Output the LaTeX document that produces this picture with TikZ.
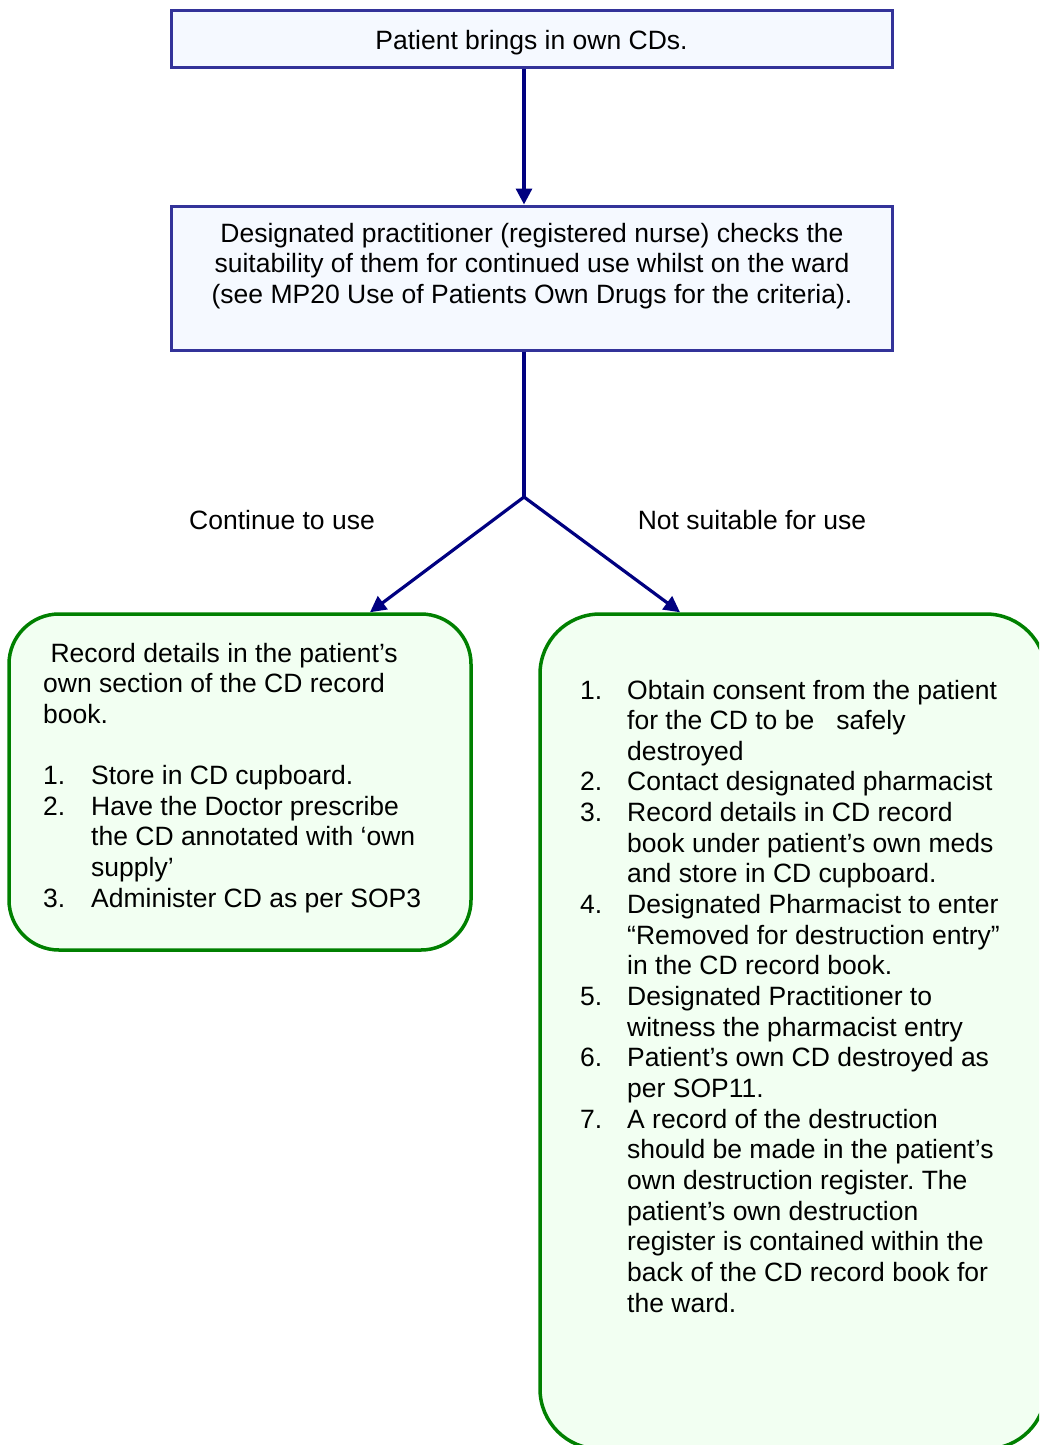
\documentclass[tikz,border=0pt]{standalone}
\usepackage{fontspec}
\setmainfont{Liberation Sans}
\usetikzlibrary{arrows.meta}
\definecolor{bbord}{HTML}{333399}
\definecolor{bfill}{HTML}{F5F9FF}
\definecolor{gbord}{HTML}{008000}
\definecolor{gfill}{HTML}{F2FFF2}
\definecolor{navyc}{HTML}{000080}
\newcommand\numboxA[1]{\makebox[48pt][l]{#1}}
\newcommand\numboxB[1]{\makebox[47pt][l]{#1}}
\frenchspacing
\begin{document}
\begin{tikzpicture}[x=1pt,y=-1pt,
  bluebox/.style={draw=bbord, fill=bfill, line width=3pt, rectangle, inner sep=0pt},
  greenbox/.style={draw=gbord, fill=gfill, line width=3.5pt, rectangle, inner sep=0pt},
  conn/.style={draw=navyc, line width=3.2pt},
  arr/.style={conn, -{Triangle[length=16pt,width=16pt]}},
  txt/.style={inner sep=0pt, font=\fontsize{26.5}{30.65}\selectfont\frenchspacing},
]
\useasboundingbox (0,0) rectangle (1039,1445);
\clip (0,0) rectangle (1039,1445);

% boxes
\node[bluebox, minimum width=721pt, minimum height=57pt] (top) at (531.5,39.5) {};
\node[bluebox, minimum width=721pt, minimum height=144pt] (mid) at (531.5,278) {};
\node[greenbox, rounded corners=50pt, minimum width=462pt, minimum height=336pt] (lbox) at (240,782) {};
\node[greenbox, rounded corners=60pt, minimum width=506pt, minimum height=835pt] (rbox) at (793,1031.5) {};

% texts
\node[txt, anchor=base] (ttop) at (531.5,49) {Patient brings in own CDs.};
\node[txt, anchor=base] (tmid) at (532,242) {\begin{tabular}[t]{@{}c@{}}
Designated practitioner (registered nurse) checks the\\
suitability of them for continued use whilst on the ward\\
(see MP20 Use of Patients Own Drugs for the criteria).
\end{tabular}};
\node[txt, anchor=base] (lcont) at (282,529.5) {Continue to use};
\node[txt, anchor=base] (lnot) at (752,529.5) {Not suitable for use};

\node[txt, anchor=base west] (tleft) at (43,662) {\begin{tabular}[t]{@{}l@{}}
\ Record details in the patient’s\\
own section of the CD record\\
book.\\
\\
\numboxA{1.}Store in CD cupboard.\\
\numboxA{2.}Have the Doctor prescribe\\
\numboxA{}the CD annotated with ‘own\\
\numboxA{}supply’\\
\numboxA{3.}Administer CD as per SOP3
\end{tabular}};

\node[txt, anchor=base west] (tright) at (580,699) {\begin{tabular}[t]{@{}l@{}}
\numboxB{1.}Obtain consent from the patient\\
\numboxB{}for the CD to be\ \ \ safely\\
\numboxB{}destroyed\\
\numboxB{2.}Contact designated pharmacist\\
\numboxB{3.}Record details in CD record\\
\numboxB{}book under patient’s own meds\\
\numboxB{}and store in CD cupboard.\\
\numboxB{4.}Designated Pharmacist to enter\\
\numboxB{}“Removed for destruction entry”\\
\numboxB{}in the CD record book.\\
\numboxB{5.}Designated Practitioner to\\
\numboxB{}witness the pharmacist entry\\
\numboxB{6.}Patient’s own CD destroyed as\\
\numboxB{}per SOP11.\\
\numboxB{7.}A record of the destruction\\
\numboxB{}should be made in the patient’s\\
\numboxB{}own destruction register. The\\
\numboxB{}patient’s own destruction\\
\numboxB{}register is contained within the\\
\numboxB{}back of the CD record book for\\
\numboxB{}the ward.
\end{tabular}};

% connectors
\coordinate (j) at (524,497);
\coordinate (la) at (370,614);
\coordinate (ra) at (680,614);
\draw[arr] (top.south -| j) -- (mid.north -| j);
\draw[conn] (mid.south -| j) -- (j);
\draw[arr] (j) -- (lbox.north -| la);
\draw[arr] (j) -- (rbox.north -| ra);
\end{tikzpicture}
\end{document}
